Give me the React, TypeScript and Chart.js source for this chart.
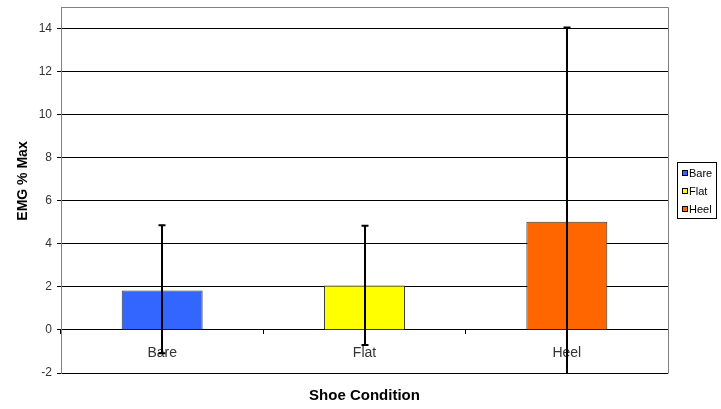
import React, { useEffect, useRef } from "react";
import { Chart, registerables } from "chart.js";

Chart.register(...registerables);

const categories = ["Bare", "Flat", "Heel"];
const means = [1.83, 2.06, 5.03];
const errHigh = [4.86, 4.84, 14.05];
const errLow = [-1.08, -0.7, -3.99];
const barColors = ["#3366FF", "#FFFF00", "#FF6600"];
const yTickMin = -2;
const yTickMax = 14;
const yAxisTop = 15;
const yStep = 2;
const xTitle = "Shoe Condition";
const yTitle = "EMG % Max";

const FONT = "'Liberation Sans', Arial, sans-serif";

const extrasPlugin = {
  id: "extras",
  afterDatasetsDraw(chart: any) {
    const { ctx, chartArea, scales } = chart;
    const y = scales.y;
    const meta = chart.getDatasetMeta(0);
    ctx.save();
    ctx.strokeStyle = "#000";
    ctx.lineWidth = 2;
    meta.data.forEach((bar: any, i: number) => {
      const x = Math.round(bar.x);
      let yHi = y.getPixelForValue(errHigh[i]);
      let yLo = y.getPixelForValue(errLow[i]);
      const hiCap = yHi >= chartArea.top;
      const loCap = yLo <= chartArea.bottom;
      yHi = Math.max(yHi, chartArea.top);
      yLo = Math.min(yLo, chartArea.bottom);
      ctx.beginPath();
      ctx.moveTo(x, yHi);
      ctx.lineTo(x, yLo);
      if (hiCap) {
        ctx.moveTo(x - 3.5, yHi);
        ctx.lineTo(x + 3.5, yHi);
      }
      if (loCap) {
        ctx.moveTo(x - 3.5, yLo);
        ctx.lineTo(x + 3.5, yLo);
      }
      ctx.stroke();
    });
    ctx.restore();
  },
  afterDraw(chart: any) {
    const { ctx, chartArea } = chart;
    ctx.save();
    // frame
    ctx.strokeStyle = "#808080";
    ctx.lineWidth = 1;
    ctx.beginPath();
    ctx.moveTo(chartArea.left + 0.5, chartArea.top + 0.5);
    ctx.lineTo(chartArea.right + 0.5, chartArea.top + 0.5);
    ctx.lineTo(chartArea.right + 0.5, chartArea.bottom + 0.5);
    ctx.stroke();

    // x title
    ctx.fillStyle = "#000";
    ctx.font = `bold 15px ${FONT}`;
    ctx.textAlign = "center";
    ctx.textBaseline = "middle";
    ctx.fillText(xTitle, (chartArea.left + chartArea.right) / 2, 396);

    // y title
    ctx.save();
    ctx.translate(23, 181);
    ctx.rotate(-Math.PI / 2);
    ctx.font = `bold 14px ${FONT}`;
    ctx.fillText(yTitle, 0, 0);
    ctx.restore();

    // legend
    const lx = 677;
    const ly = 162;
    const lw = 39;
    const lh = 56;
    ctx.fillStyle = "#fff";
    ctx.fillRect(lx, ly, lw, lh);
    ctx.strokeStyle = "#000";
    ctx.lineWidth = 1;
    ctx.strokeRect(lx + 0.5, ly + 0.5, lw, lh);
    ctx.font = `11px ${FONT}`;
    ctx.textAlign = "left";
    ctx.textBaseline = "middle";
    categories.forEach((c, i) => {
      const cy = ly + 11 + i * 18;
      ctx.fillStyle = barColors[i];
      ctx.fillRect(lx + 5, cy - 3, 6, 6);
      ctx.strokeStyle = "#000";
      ctx.strokeRect(lx + 5.5, cy - 2.5, 5, 5);
      ctx.fillStyle = "#000";
      ctx.fillText(c, lx + 12, cy + 0.5);
    });
    ctx.restore();
  },
};

export default function App() {
  const ref = useRef<HTMLCanvasElement>(null);
  useEffect(() => {
    document.body.style.margin = "0";
    Chart.defaults.font.family = FONT;
    const chart = new Chart(ref.current as HTMLCanvasElement, {
      type: "bar",
      data: {
        labels: categories,
        datasets: [
          {
            data: means,
            backgroundColor: barColors,
            borderColor: "#333",
            borderWidth: 1,
            categoryPercentage: 1,
            barPercentage: 0.4,
          },
        ],
      },
      options: {
        animation: false,
        responsive: false,
        devicePixelRatio: 1,
        layout: { padding: { left: 0, top: 7, right: 53, bottom: 36 } },
        plugins: { legend: { display: false }, tooltip: { enabled: false }, title: { display: false } },
        scales: {
          x: {
            position: { y: 0 } as any,
            offset: true,
            grid: {
              display: true,
              drawOnChartArea: false,
              drawTicks: true,
              tickLength: 4,
              color: "#000",
              offset: true,
            },
            border: { display: false },
            ticks: { color: "#333", font: { size: 14 }, padding: 11 },
          },
          y: {
            min: yTickMin,
            max: yAxisTop,
            afterBuildTicks: (scale: any) => {
              scale.ticks = scale.ticks.filter((t: any) => t.value <= yTickMax);
            },
            afterFit: (scale: any) => {
              scale.width = 61;
              scale.paddingTop = 0;
              scale.paddingBottom = 0;
            },
            grid: { color: "#000", tickLength: 4, drawTicks: true },
            border: { display: true, color: "#808080" },
            ticks: { stepSize: yStep, color: "#333", font: { size: 12 }, padding: 5 },
          },
        },
      },
      plugins: [extrasPlugin],
    });
    return () => chart.destroy();
  }, []);
  return (
    <div style={{ position: "absolute", left: 0, top: 0, width: 721, height: 409 }}>
      <canvas ref={ref} width={721} height={409} />
    </div>
  );
}
